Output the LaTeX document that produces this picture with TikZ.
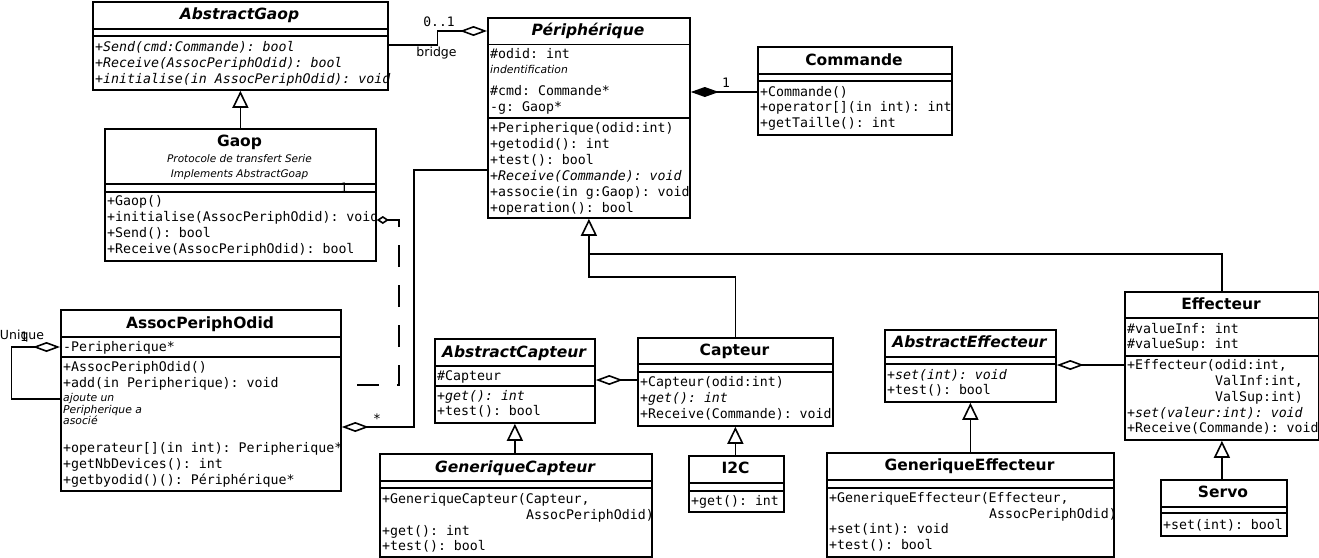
\documentclass[tikz,border=0pt]{standalone}
\usepackage{fontspec}
\setmainfont{DejaVu Sans}
\setmonofont{DejaVu Sans Mono}
\usetikzlibrary{arrows.meta}
\tikzset{
  box/.style={draw, line width=1.8pt, inner sep=0pt, anchor=north west},
  sepline/.style={line width=1.8pt},
  mono/.style={font=\fontsize{13.25}{16}\selectfont\ttfamily, anchor=west, inner sep=0pt, text height=8pt, text depth=0pt},
  imono/.style={mono, font=\fontsize{13.25}{16}\selectfont\ttfamily\itshape},
  title/.style={font=\fontsize{15.5}{18}\selectfont\bfseries, inner sep=0pt, text height=11.3pt, text depth=0pt},
  ititle/.style={title, font=\fontsize{15.5}{18}\selectfont\bfseries\itshape},
  note/.style={font=\fontsize{10.8}{12}\selectfont\itshape, anchor=west, inner sep=0pt, text height=6pt, text depth=0pt},
  subnote/.style={font=\fontsize{10.5}{12}\selectfont\itshape, inner sep=0pt, text height=6pt, text depth=0pt},
  lbl/.style={font=\fontsize{12.5}{14}\selectfont, inner sep=0pt, text height=7pt, text depth=0pt},
  mlbl/.style={font=\fontsize{13}{15}\selectfont\ttfamily, inner sep=0pt, text height=8pt, text depth=0pt},
  conn/.style={line width=1.6pt},
  gen/.style={conn, -{Triangle[open, length=17pt, width=16pt]}},
  agg/.style={conn, -{Diamond[open, length=27pt, width=10pt]}},
  comp/.style={conn, -{Diamond[length=28pt, width=10pt]}},
  sagg/.style={conn, -{Diamond[open, length=12pt, width=8pt]}},
}
\begin{document}
\begin{tikzpicture}[x=1pt, y=-1pt]
\useasboundingbox[fill=white] (0,0) rectangle (1319,557);

% ---------------- AbstractGaop
\node[box, minimum width=295pt, minimum height=88pt] (ag) at (92,1) {};
\node[ititle] (agT) at (239.5,14) {AbstractGaop};
\draw[sepline] (ag.west |- 0,29) -- (ag.east |- 0,29);
\draw[sepline] (ag.west |- 0,36) -- (ag.east |- 0,36);
\node[imono] (ag1) at (95,47) {+Send(cmd:Commande): bool};
\node[imono] (ag2) at (95,63) {+Receive(AssocPeriphOdid): bool};
\node[imono] (ag3) at (95,79) {+initialise(in AssocPeriphOdid): void};

% ---------------- Peripherique
\node[box, minimum width=202pt, minimum height=200pt] (pe) at (487,17) {};
\node[ititle] (peT) at (588,30) {Périphérique};
\draw[sepline] (pe.west |- 0,44.5) -- (pe.east |- 0,44.5);
\node[mono] (pe1) at (490,54) {\#odid: int};
\node[note] (pe2) at (490,70) {indentification};
\node[mono] (pe3) at (490,91) {\#cmd: Commande*};
\node[mono] (pe4) at (490,107) {-g: Gaop*};
\draw[sepline] (pe.west |- 0,118) -- (pe.east |- 0,118);
\node[mono] (pe5) at (490,128) {+Peripherique(odid:int)};
\node[mono] (pe6) at (490,144) {+getodid(): int};
\node[mono] (pe7) at (490,160) {+test(): bool};
\node[mono] (pe8) at (490,176) {+\textit{Receive(Commande): void}};
\node[mono] (pe9) at (490,192) {+associe(in g:Gaop): void};
\node[mono] (pe10) at (490,208) {+operation(): bool};

% ---------------- Commande
\node[box, minimum width=194pt, minimum height=88pt] (cm) at (757,46) {};
\node[title] (cmT) at (854,60) {Commande};
\draw[sepline] (cm.west |- 0,74) -- (cm.east |- 0,74);
\draw[sepline] (cm.west |- 0,81) -- (cm.east |- 0,81);
\node[mono] (cm1) at (760,92) {+Commande()};
\node[mono] (cm2) at (760,107.5) {+operator[](in int): int};
\node[mono] (cm3) at (760,123) {+getTaille(): int};

% ---------------- Gaop
\node[box, minimum width=271pt, minimum height=132pt] (ga) at (104,128) {};
\node[title] (gaT) at (239.5,141) {Gaop};
\node[subnote] (ga0a) at (239.5,159) {Protocole de transfert Serie};
\node[subnote] (ga0b) at (239.5,174) {Implements AbstractGoap};
\draw[sepline] (ga.west |- 0,184) -- (ga.east |- 0,184);
\draw[sepline] (ga.west |- 0,192) -- (ga.east |- 0,192);
\node[mono] (ga1) at (107,201) {+Gaop()};
\node[mono] (ga2) at (107,217) {+initialise(AssocPeriphOdid): void};
\node[mono] (ga3) at (107,233) {+Send(): bool};
\node[mono] (ga4) at (107,249) {+Receive(AssocPeriphOdid): bool};

% ---------------- AssocPeriphOdid
\node[box, minimum width=280pt, minimum height=181pt] (ap) at (60,309) {};
\node[title] (apT) at (200,323) {AssocPeriphOdid};
\draw[sepline] (ap.west |- 0,337) -- (ap.east |- 0,337);
\node[mono] (ap0) at (63,347) {-Peripherique*};
\draw[sepline] (ap.west |- 0,357) -- (ap.east |- 0,357);
\node[mono] (ap1) at (63,367) {+AssocPeriphOdid()};
\node[mono] (ap2) at (63,383) {+add(in Peripherique): void};
\node[note] (ap3) at (63,398.5) {ajoute un};
\node[note] (ap4) at (63,410) {Peripherique a};
\node[note] (ap5) at (63,421.5) {asocié};
\node[mono] (ap6) at (63,448.5) {+operateur[](in int): Peripherique*};
\node[mono] (ap7) at (63,464) {+getNbDevices(): int};
\node[mono] (ap8) at (63,480) {+getbyodid()(): Périphérique*};

% ---------------- AbstractCapteur
\node[box, minimum width=160pt, minimum height=84pt] (ac) at (434,338) {};
\node[ititle] (acT) at (514,352) {AbstractCapteur};
\draw[sepline] (ac.west |- 0,366) -- (ac.east |- 0,366);
\node[mono] (ac0) at (437,376) {\#Capteur};
\draw[sepline] (ac.west |- 0,386) -- (ac.east |- 0,386);
\node[mono] (ac1) at (437,396) {+\textit{get(): int}};
\node[mono] (ac2) at (437,411) {+test(): bool};

% ---------------- GeneriqueCapteur
\node[box, minimum width=272pt, minimum height=103pt] (gc) at (379,453) {};
\node[ititle] (gcT) at (515,467) {GeneriqueCapteur};
\draw[sepline] (gc.west |- 0,481) -- (gc.east |- 0,481);
\draw[sepline] (gc.west |- 0,488) -- (gc.east |- 0,488);
\node[mono] (gc1) at (382,499) {+GeneriqueCapteur(Capteur,};
\node[mono] (gc2) at (526,515) {AssocPeriphOdid)};
\node[mono] (gc3) at (382,531) {+get(): int};
\node[mono] (gc4) at (382,546) {+test(): bool};

% ---------------- Capteur
\node[box, minimum width=195pt, minimum height=88pt] (ca) at (637,337) {};
\node[title] (caT) at (734.5,350) {Capteur};
\draw[sepline] (ca.west |- 0,364) -- (ca.east |- 0,364);
\draw[sepline] (ca.west |- 0,372) -- (ca.east |- 0,372);
\node[mono] (ca1) at (640,382) {+Capteur(odid:int)};
\node[mono] (ca2) at (640,398) {+\textit{get(): int}};
\node[mono] (ca3) at (640,414) {+Receive(Commande): void};

% ---------------- I2C
\node[box, minimum width=95pt, minimum height=56pt] (ic) at (688,455) {};
\node[title] (icT) at (735.5,468) {I2C};
\draw[sepline] (ic.west |- 0,483) -- (ic.east |- 0,483);
\draw[sepline] (ic.west |- 0,491) -- (ic.east |- 0,491);
\node[mono] (ic1) at (691,501) {+get(): int};

% ---------------- AbstractEffecteur
\node[box, minimum width=171pt, minimum height=72pt] (ae) at (884,329) {};
\node[ititle] (aeT) at (969.5,342) {AbstractEffecteur};
\draw[sepline] (ae.west |- 0,357) -- (ae.east |- 0,357);
\draw[sepline] (ae.west |- 0,364) -- (ae.east |- 0,364);
\node[mono] (ae1) at (887,375) {+\textit{set(int): void}};
\node[mono] (ae2) at (887,390) {+test(): bool};

% ---------------- GeneriqueEffecteur
\node[box, minimum width=287pt, minimum height=104pt] (ge) at (826,452) {};
\node[title] (geT) at (969.5,465) {GeneriqueEffecteur};
\draw[sepline] (ge.west |- 0,480) -- (ge.east |- 0,480);
\draw[sepline] (ge.west |- 0,488) -- (ge.east |- 0,488);
\node[mono] (ge1) at (829,498) {+GeneriqueEffecteur(Effecteur,};
\node[mono] (ge2) at (989,514) {AssocPeriphOdid)};
\node[mono] (ge3) at (829,529.5) {+set(int): void};
\node[mono] (ge4) at (829,545.5) {+test(): bool};

% ---------------- Effecteur
\node[box, minimum width=194pt, minimum height=148pt] (ef) at (1124,291) {};
\node[title] (efT) at (1221,304) {Effecteur};
\draw[sepline] (ef.west |- 0,318) -- (ef.east |- 0,318);
\node[mono] (ef1) at (1127,329) {\#valueInf: int};
\node[mono] (ef2) at (1127,344) {\#valueSup: int};
\draw[sepline] (ef.west |- 0,356) -- (ef.east |- 0,356);
\node[mono] (ef3) at (1127,365) {+Effecteur(odid:int,};
\node[mono] (ef4) at (1215,381) {ValInf:int,};
\node[mono] (ef5) at (1215,397) {ValSup:int)};
\node[mono] (ef6) at (1127,413) {+\textit{set(valeur:int): void}};
\node[mono] (ef7) at (1127,428) {+Receive(Commande): void};

% ---------------- Servo
\node[box, minimum width=126pt, minimum height=56pt] (sv) at (1160,479) {};
\node[title] (svT) at (1223,492) {Servo};
\draw[sepline] (sv.west |- 0,507) -- (sv.east |- 0,507);
\draw[sepline] (sv.west |- 0,513) -- (sv.east |- 0,513);
\node[mono] (sv1) at (1163,525) {+set(int): bool};

% ================= connectors
% generalisations
\draw[gen] (ga.north) -- (ag.south);
\draw[gen] (ca.north) |- (pe.south |- 0,277) -- (pe.south);
\draw[conn] (ef.north) |- (pe.south |- 0,254);
\draw[gen] (ac.south |- gc.north) -- (ac.south);
\draw[gen] (ca.south |- ic.north) -- (ca.south);
\draw[gen] (ae.south |- ge.north) -- (ae.south);
\draw[gen] (ef.south |- sv.north) -- (ef.south);

% AbstractGaop -- Peripherique (bridge)
\draw[agg] (ag.east |- 0,45) -- (437.5,45) -- (437.5,31) -- (pe.west |- 0,31);
\node[mlbl] (lb01) at (439,22) {0..1};
\node[lbl] (lbbr) at (436.5,53) {bridge};

% Commande -- Peripherique (composition)
\draw[comp] (cm.west |- 0,92) -- (pe.east |- 0,92);
\node[mlbl] (lbc1) at (726,83) {1};

% Peripherique -- AssocPeriphOdid
\draw[agg] (pe.west |- 0,170) -- (414,170) -- (414,427) -- (ap.east |- 0,427);
\node[mlbl] (lbstar) at (377,419) {*};

% Gaop dashed aggregation (free end)
\coordinate (dEnd) at (357,385);
\draw[sagg, dash pattern=on 22pt off 18pt] (dEnd) -- (399,385) -- (399,220) -- (ga.east |- 0,220);
\node[mlbl] (lbg1) at (344,188) {1};

% AssocPeriphOdid self aggregation
\draw[agg] (ap.west |- 0,399) -- (11.5,399) -- (11.5,347) -- (ap.west |- 0,347);
\node[lbl] (lbuq) at (22,336) {Unique};
\node[mlbl] (lbu1) at (24,337.5) {1};

% Capteur -- AbstractCapteur
\draw[agg] (ca.west |- 0,380) -- (ac.east |- 0,380);
% Effecteur -- AbstractEffecteur
\draw[agg] (ef.west |- 0,365) -- (ae.east |- 0,365);
\end{tikzpicture}
\end{document}
